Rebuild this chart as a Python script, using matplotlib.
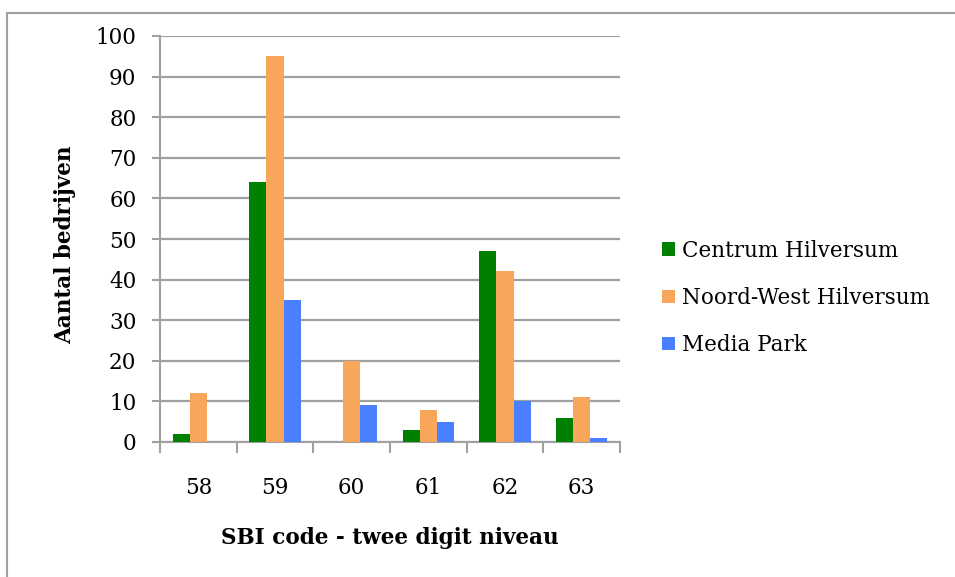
import numpy as np
import matplotlib
matplotlib.use("Agg")
import matplotlib.pyplot as plt
from matplotlib.patches import Rectangle

# ── Data ────────────────────────────────────────────────────────────────────
sbi_codes = ["58", "59", "60", "61", "62", "63"]
centrum = [2, 64, 0, 3, 47, 6]
noord_west = [12, 95, 20, 8, 42, 11]
media_park = [0, 35, 9, 5, 10, 1]
series_names = ["Centrum Hilversum", "Noord-West Hilversum", "Media Park"]
series_colors = ["#008000", "#F8A65A", "#4A80FF"]
y_ticks = list(range(0, 101, 10))

plt.rcParams["font.family"] = ["DejaVu Serif"]
FS = 15.5
GREY = "#a0a0a0"

fig = plt.figure(figsize=(9.55, 5.77), dpi=100)
ax = fig.add_axes([160 / 955, 1 - 442 / 577, 460 / 955, 406 / 577])

# outer frame of the figure box
fig.patches.append(Rectangle((7 / 955, -0.01), 1.0, 1 - 13 / 577 + 0.01,
                             transform=fig.transFigure, fill=False,
                             edgecolor=GREY, linewidth=1.5))

x = np.arange(len(sbi_codes))
w = 0.222
for k, (vals, name, col) in enumerate(zip([centrum, noord_west, media_park],
                                          series_names, series_colors)):
    ax.bar(x + (k - 1) * w, vals, width=w, color=col, label=name, zorder=3)

ax.set_xlim(-0.5, len(sbi_codes) - 0.5)
ax.set_ylim(0, 100)
ax.set_yticks(y_ticks)
ax.yaxis.grid(True, color=GREY, linewidth=1.6, zorder=0)
ax.set_axisbelow(True)

# group boundaries as ticks, labels centred between them
ax.set_xticks(np.arange(-0.5, len(sbi_codes), 1.0))
ax.set_xticklabels([])
ax.set_xticks(x, minor=True)
ax.set_xticklabels(sbi_codes, minor=True)
ax.tick_params(axis="x", which="major", length=8, width=1.5, color=GREY)
ax.tick_params(axis="x", which="minor", length=0, pad=25, labelsize=FS)
ax.tick_params(axis="y", length=6, width=1.5, color=GREY, labelsize=FS, pad=11)

for side in ["top", "right"]:
    ax.spines[side].set_visible(False)
for side in ["left", "bottom"]:
    ax.spines[side].set_color(GREY)
    ax.spines[side].set_linewidth(1.5)

ax.set_ylabel("Aantal bedrijven", fontsize=FS, fontweight="bold")
ax.yaxis.set_label_coords(-0.183, 0.485)
ax.set_xlabel("SBI code - twee digit niveau", fontsize=FS, fontweight="bold")
ax.xaxis.set_label_coords(0.5, -0.209)

fig.legend(*ax.get_legend_handles_labels(), loc="center left",
           bbox_to_anchor=(662 / 955, 1 - 298 / 577), frameon=False,
           fontsize=FS, handlelength=0.6, handleheight=0.6, handletextpad=0.33,
           labelspacing=1.17, borderpad=0, borderaxespad=0)

fig.savefig("out.png", dpi=100)
